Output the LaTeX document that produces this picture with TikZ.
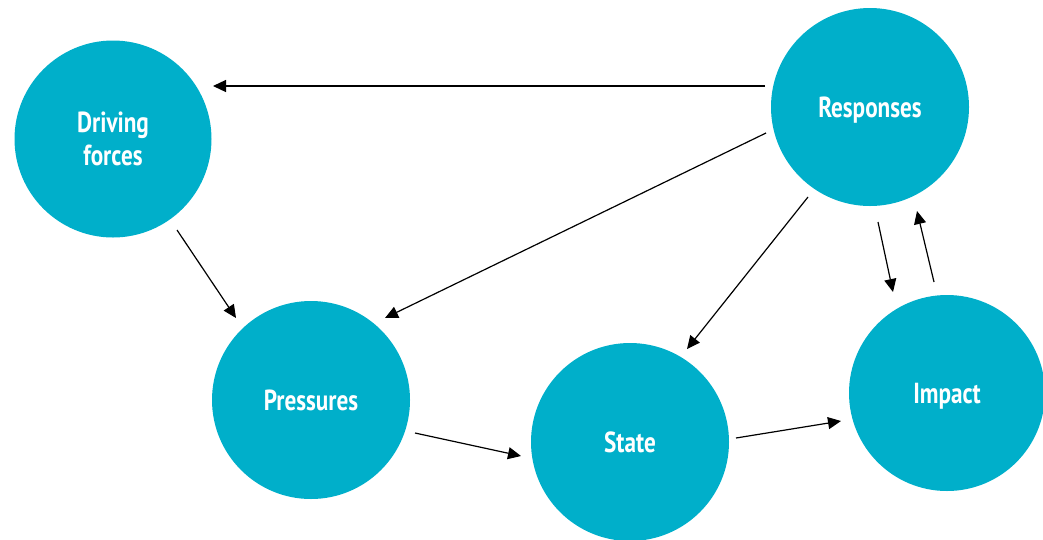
\documentclass[tikz,border=0pt]{standalone}
\usepackage{fontspec}
\setmainfont{PT Sans}[FakeStretch=0.8]
\usetikzlibrary{arrows.meta,calc}
\definecolor{teal}{RGB}{0,175,202}
\newcommand{\nodepth}[1]{\raisebox{0pt}[\height][0pt]{#1}}
\begin{document}
\begin{tikzpicture}[x=1pt,y=-1pt,
  blob/.style={circle,fill=teal,draw=none,minimum size=#1,inner sep=0pt,
    text=white,font=\fontsize{29}{33}\selectfont\bfseries,align=center},
  arr/.style={-{Triangle[length=13pt,width=12pt]},line width=1.2pt,black}]
\useasboundingbox (0,0) rectangle (1043,539);
\node[blob=197pt] (D) at (113,139) {Driving\\forces};
\node[blob=198pt] (R) at (870,107) {\nodepth{Responses}};
\node[blob=198pt] (P) at (311,400) {\nodepth{Pressures}};
\node[blob=198pt] (S) at (630,442) {\nodepth{State}};
\node[blob=196pt] (I) at (947,393) {\nodepth{Impact}};
\draw[arr] ($(R)+(-105,-21)$) -- ($(D)+(100,-53)$);
\draw[arr] ($(R)+(-104,26)$) -- ($(P)+(74,-82)$);
\draw[arr] ($(R)+(-62,90)$) -- ($(S)+(57,-93)$);
\draw[arr] ($(R)+(8,115)$) -- ($(I)+(-54,-101)$);
\draw[arr] ($(I)+(-13,-111)$) -- ($(R)+(47,104)$);
\draw[arr] ($(D)+(64,91)$) -- ($(P)+(-75,-82)$);
\draw[arr] ($(P)+(104,33)$) -- ($(S)+(-109,14)$);
\draw[arr] ($(S)+(106,-4)$) -- ($(I)+(-106,28)$);
\end{tikzpicture}
\end{document}
